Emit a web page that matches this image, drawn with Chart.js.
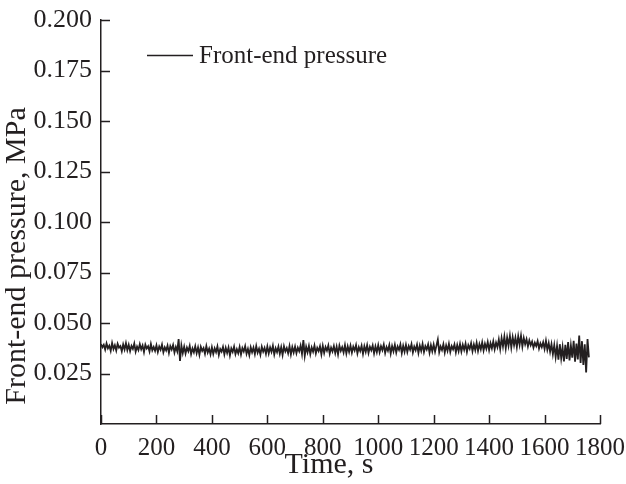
<!DOCTYPE html>
<html>
<head>
<meta charset="utf-8">
<script src="https://cdn.jsdelivr.net/npm/chart.js@4.4.0/dist/chart.umd.min.js"></script>
<style>
html, body { margin: 0; padding: 0; background: #fff; }
</style>
</head>
<body>
<canvas id="pressureChart" width="626" height="484"></canvas>
<script>
// seconds between samples of the recorded signal
const sampleStep = 5;

// front-end pressure, MPa, one value every 5 s from t = 0 (one row = 100 s)
const pressure = [
    0.0396, 0.0380, 0.0392, 0.0368, 0.0399, 0.0375, 0.0388, 0.0362, 0.0401, 0.0371, 0.0390, 0.0364, 0.0397, 0.0378, 0.0386, 0.0360, 0.0394, 0.0369, 0.0400, 0.0366,
    0.0392, 0.0361, 0.0387, 0.0372, 0.0398, 0.0358, 0.0383, 0.0366, 0.0395, 0.0370, 0.0389, 0.0356, 0.0393, 0.0374, 0.0385, 0.0359, 0.0396, 0.0365, 0.0381, 0.0362,
    0.0390, 0.0357, 0.0384, 0.0368, 0.0393, 0.0355, 0.0379, 0.0364, 0.0388, 0.0352, 0.0386, 0.0369, 0.0391, 0.0354, 0.0381, 0.0360, 0.0420, 0.0312, 0.0389, 0.0351,
    0.0383, 0.0349, 0.0378, 0.0360, 0.0387, 0.0346, 0.0374, 0.0355, 0.0385, 0.0351, 0.0379, 0.0343, 0.0382, 0.0362, 0.0376, 0.0348, 0.0386, 0.0354, 0.0373, 0.0345,
    0.0380, 0.0347, 0.0375, 0.0356, 0.0384, 0.0342, 0.0371, 0.0358, 0.0382, 0.0345, 0.0377, 0.0352, 0.0379, 0.0340, 0.0374, 0.0357, 0.0383, 0.0346, 0.0370, 0.0350,
    0.0381, 0.0344, 0.0376, 0.0359, 0.0385, 0.0348, 0.0372, 0.0341, 0.0380, 0.0355, 0.0378, 0.0346, 0.0386, 0.0353, 0.0373, 0.0343, 0.0382, 0.0358, 0.0377, 0.0347,
    0.0384, 0.0349, 0.0379, 0.0357, 0.0387, 0.0344, 0.0375, 0.0356, 0.0383, 0.0348, 0.0380, 0.0342, 0.0385, 0.0359, 0.0376, 0.0350, 0.0386, 0.0345, 0.0381, 0.0354,
    0.0383, 0.0350, 0.0378, 0.0360, 0.0388, 0.0347, 0.0416, 0.0338, 0.0382, 0.0355, 0.0386, 0.0346, 0.0379, 0.0358, 0.0388, 0.0349, 0.0377, 0.0361, 0.0385, 0.0345,
    0.0387, 0.0352, 0.0381, 0.0363, 0.0389, 0.0348, 0.0378, 0.0359, 0.0386, 0.0351, 0.0383, 0.0345, 0.0388, 0.0362, 0.0380, 0.0354, 0.0390, 0.0349, 0.0384, 0.0357,
    0.0388, 0.0353, 0.0383, 0.0364, 0.0391, 0.0350, 0.0380, 0.0361, 0.0387, 0.0347, 0.0385, 0.0358, 0.0390, 0.0352, 0.0382, 0.0365, 0.0389, 0.0350, 0.0384, 0.0356,
    0.0390, 0.0355, 0.0385, 0.0366, 0.0393, 0.0352, 0.0381, 0.0363, 0.0391, 0.0349, 0.0386, 0.0360, 0.0392, 0.0354, 0.0384, 0.0367, 0.0394, 0.0351, 0.0387, 0.0358,
    0.0392, 0.0357, 0.0386, 0.0368, 0.0395, 0.0354, 0.0383, 0.0365, 0.0393, 0.0352, 0.0388, 0.0362, 0.0396, 0.0356, 0.0385, 0.0369, 0.0394, 0.0353, 0.0390, 0.0360,
    0.0393, 0.0358, 0.0388, 0.0418, 0.0356, 0.0384, 0.0366, 0.0395, 0.0354, 0.0389, 0.0363, 0.0397, 0.0357, 0.0386, 0.0370, 0.0394, 0.0355, 0.0391, 0.0361, 0.0396,
    0.0359, 0.0392, 0.0367, 0.0398, 0.0357, 0.0390, 0.0372, 0.0400, 0.0360, 0.0393, 0.0366, 0.0402, 0.0362, 0.0395, 0.0370, 0.0404, 0.0364, 0.0397, 0.0373, 0.0406,
    0.0366, 0.0400, 0.0375, 0.0409, 0.0370, 0.0403, 0.0380, 0.0418, 0.0372, 0.0425, 0.0384, 0.0432, 0.0375, 0.0428, 0.0388, 0.0436, 0.0379, 0.0430, 0.0390, 0.0427,
    0.0381, 0.0434, 0.0392, 0.0437, 0.0383, 0.0426, 0.0395, 0.0420, 0.0384, 0.0414, 0.0390, 0.0408, 0.0378, 0.0402, 0.0386, 0.0410, 0.0374, 0.0399, 0.0381, 0.0405,
    0.0372, 0.0412, 0.0368, 0.0400, 0.0358, 0.0395, 0.0345, 0.0390, 0.0332, 0.0386, 0.0318, 0.0395, 0.0326, 0.0380, 0.0310, 0.0392, 0.0322, 0.0405, 0.0315, 0.0388,
    0.0328, 0.0412, 0.0308, 0.0398, 0.0320, 0.0438, 0.0302, 0.0410, 0.0292, 0.0395, 0.0255, 0.0420, 0.0330
];

const xTicks = [0, 200, 400, 600, 800, 1000, 1200, 1400, 1600, 1800];
const yTicks = [0.025, 0.05, 0.075, 0.1, 0.125, 0.15, 0.175, 0.2];

const seriesLabel = 'Front-end pressure';
const xTitle = 'Time, s';
const yTitle = 'Front-end pressure, MPa';

const ink = '#231f20';
const serif = '"Liberation Serif", "DejaVu Serif", serif';

// inward ticks, legend and axis titles
const framePlugin = {
    id: 'frame',
    afterDraw(chart) {
        const ctx = chart.ctx;
        const xs = chart.scales.x;
        const ys = chart.scales.y;
        const area = chart.chartArea;
        ctx.save();
        ctx.strokeStyle = ink;
        ctx.lineWidth = 1.5;
        ctx.beginPath();
        xs.ticks.forEach(t => {
            const px = Math.round(xs.getPixelForValue(t.value)) + 0.5;
            ctx.moveTo(px, area.bottom);
            ctx.lineTo(px, area.bottom - 9);
        });
        ys.ticks.forEach(t => {
            const py = Math.round(ys.getPixelForValue(t.value)) + 0.5;
            ctx.moveTo(area.left, py);
            ctx.lineTo(area.left + 9, py);
        });
        ctx.stroke();

        // legend
        const ds = chart.data.datasets[0];
        ctx.strokeStyle = ds.borderColor;
        ctx.lineWidth = 1.3;
        ctx.beginPath();
        ctx.moveTo(147, 55.5);
        ctx.lineTo(193, 55.5);
        ctx.stroke();
        ctx.fillStyle = ink;
        ctx.font = '25px ' + serif;
        ctx.textBaseline = 'middle';
        ctx.textAlign = 'left';
        ctx.fillText(ds.label, 199, 56);

        // axis titles
        ctx.font = '30px ' + serif;
        ctx.textAlign = 'center';
        ctx.fillText(xTitle, 329, 465);
        ctx.translate(17, 256);
        ctx.rotate(-Math.PI / 2);
        ctx.fillText(yTitle, 0, 0);
        ctx.restore();
    }
};

new Chart(document.getElementById('pressureChart'), {
    type: 'line',
    data: {
        datasets: [{
            label: seriesLabel,
            data: pressure.map((v, i) => ({ x: i * sampleStep, y: v })),
            borderColor: ink,
            borderWidth: 1.8,
            pointRadius: 0,
            tension: 0,
            fill: false
        }]
    },
    options: {
        responsive: false,
        animation: false,
        layout: { padding: { top: 20, right: 26, left: 0, bottom: 0 } },
        plugins: {
            legend: { display: false },
            tooltip: { enabled: false }
        },
        scales: {
            x: {
                type: 'linear',
                min: 0,
                max: 1800,
                afterBuildTicks: s => { s.ticks = xTicks.map(v => ({ value: v })); },
                afterFit: s => { s.height = 60; s.paddingLeft = 0; s.paddingRight = 0; },
                grid: { display: false, drawTicks: false },
                border: { display: true, color: ink, width: 1.5 },
                ticks: {
                    color: ink,
                    padding: 9,
                    maxRotation: 0,
                    autoSkip: false,
                    font: { family: serif, size: 25 },
                    callback: v => String(v)
                }
            },
            y: {
                type: 'linear',
                min: 0,
                max: 0.2,
                afterBuildTicks: s => { s.ticks = yTicks.map(v => ({ value: v })); },
                afterFit: s => { s.width = 101; s.paddingTop = 0; s.paddingBottom = 0; },
                grid: { display: false, drawTicks: false },
                border: { display: true, color: ink, width: 1.5 },
                ticks: {
                    color: ink,
                    padding: 9,
                    autoSkip: false,
                    font: { family: serif, size: 26 },
                    callback: v => v.toFixed(3)
                }
            }
        }
    },
    plugins: [framePlugin]
});
</script>
</body>
</html>
